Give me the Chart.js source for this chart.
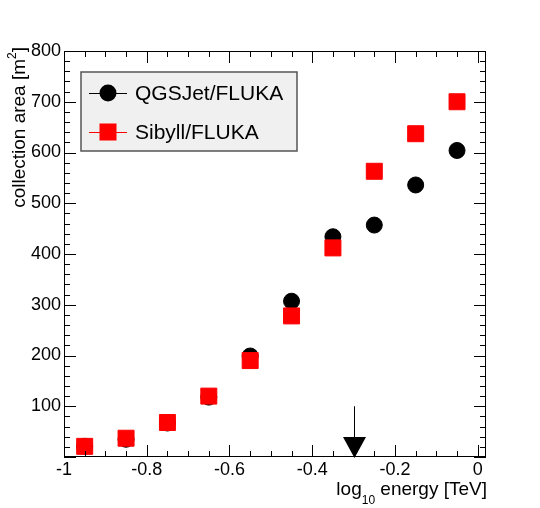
<!DOCTYPE html>
<html>
<head>
<meta charset="utf-8">
<script src="https://cdn.jsdelivr.net/npm/chart.js@4"></script>
<style>
html, body { margin: 0; padding: 0; background: #fff; }
#wrap { width: 540px; height: 508px; }
</style>
</head>
<body>
<div id="wrap"><canvas id="chart" width="540" height="508"></canvas></div>
<script>
// log10 energy bin centres [TeV]
const energy = [-0.95, -0.85, -0.75, -0.65, -0.55, -0.45, -0.35, -0.25, -0.15, -0.05]
const qgsjet = [21, 35, 67, 118, 199, 307, 434, 457, 536, 604]
const sibyll = [21, 37, 68, 120, 190, 278, 412, 563, 637, 700]
const seriesNames = ["QGSJet/FLUKA", "Sibyll/FLUKA"]
const xTickLabels = [-1, -0.8, -0.6, -0.4, -0.2, 0]
const yTickLabels = [100, 200, 300, 400, 500, 600, 700, 800]
const threshold = -0.3
const thresholdArrowTop = 100

const FONT = "'Liberation Sans', Arial, Helvetica, sans-serif"

const toPoints = function (ys) {
     return energy.map((x, i) => ({ x: x, y: ys[i] }))
}

// ROOT style frame, inward ticks, arrow, axis titles and legend
const rootStyle = {
     id: "rootStyle",
     afterDraw(chart) {
          const ctx = chart.ctx
          const a = chart.chartArea
          const xs = chart.scales.x
          const ys = chart.scales.y
          ctx.save()
          ctx.strokeStyle = "#000"
          ctx.lineWidth = 1

          // frame
          ctx.strokeRect(a.left + 0.5, a.top + 0.5, a.right - a.left - 1, a.bottom - a.top - 1)

          // x ticks (bottom and top)
          ctx.beginPath()
          for (let i = 0; i <= 20; i++) {
               const v = -1 + i * 0.05
               const px = Math.round(xs.getPixelForValue(v)) + 0.5
               const major = i % 4 === 0
               const len = major ? 12 : 6
               ctx.moveTo(px, a.bottom)
               ctx.lineTo(px, a.bottom - len)
               ctx.moveTo(px, a.top)
               ctx.lineTo(px, a.top + len)
          }
          // y ticks (left and right)
          for (let i = 0; i <= 40; i++) {
               const v = i * 20
               const py = Math.round(ys.getPixelForValue(v)) + 0.5
               const major = i % 5 === 0
               const len = major ? 12 : 6
               ctx.moveTo(a.left, py)
               ctx.lineTo(a.left + len, py)
               ctx.moveTo(a.right, py)
               ctx.lineTo(a.right - len, py)
          }
          ctx.stroke()

          // threshold arrow
          const ax = Math.round(xs.getPixelForValue(threshold)) + 0.5
          const aTop = ys.getPixelForValue(thresholdArrowTop)
          const tip = ys.getPixelForValue(0)
          ctx.beginPath()
          ctx.moveTo(ax, aTop)
          ctx.lineTo(ax, tip - 18)
          ctx.stroke()
          ctx.fillStyle = "#000"
          ctx.beginPath()
          ctx.moveTo(ax - 11.5, tip - 20)
          ctx.lineTo(ax + 11.5, tip - 20)
          ctx.lineTo(ax, tip + 1)
          ctx.closePath()
          ctx.fill()

          // x title
          ctx.fillStyle = "#000"
          ctx.textBaseline = "alphabetic"
          ctx.textAlign = "left"
          const rest = " energy [TeV]"
          ctx.font = "19px " + FONT
          const wRest = ctx.measureText(rest).width
          ctx.font = "12px " + FONT
          const wSub = ctx.measureText("10").width
          ctx.font = "19px " + FONT
          const wLog = ctx.measureText("log").width
          let tx = 487 - wRest - wSub - wLog
          ctx.fillText("log", tx, 495)
          tx += wLog
          ctx.font = "12px " + FONT
          ctx.fillText("10", tx, 504)
          tx += wSub
          ctx.font = "19px " + FONT
          ctx.fillText(rest, tx, 495)

          // y title (rotated, right aligned to top)
          ctx.save()
          ctx.translate(25, 47)
          ctx.rotate(-Math.PI / 2)
          ctx.font = "19px " + FONT
          const wBr = ctx.measureText("]").width
          ctx.font = "12px " + FONT
          const wSup = ctx.measureText("2").width
          ctx.font = "19px " + FONT
          const main = "collection area [m"
          const wMain = ctx.measureText(main).width
          let ty = -(wMain + wSup + wBr)
          ctx.fillText(main, ty, 0)
          ty += wMain
          ctx.font = "12px " + FONT
          ctx.fillText("2", ty, -9)
          ty += wSup
          ctx.font = "19px " + FONT
          ctx.fillText("]", ty, 0)
          ctx.restore()

          // legend
          ctx.fillStyle = "#f0f0f0"
          ctx.fillRect(81, 72, 216, 79)
          ctx.strokeStyle = "#555"
          ctx.lineWidth = 1.5
          ctx.strokeRect(81, 72, 216, 79)
          const rows = [93, 132]
          const colors = ["#000", "#ff0000"]
          rows.forEach((ry, i) => {
               ctx.strokeStyle = colors[i]
               ctx.lineWidth = 1
               ctx.beginPath()
               ctx.moveTo(89, ry + 0.5)
               ctx.lineTo(127, ry + 0.5)
               ctx.stroke()
               ctx.fillStyle = colors[i]
               if (i === 0) {
                    ctx.beginPath()
                    ctx.arc(108, ry, 8.5, 0, Math.PI * 2)
                    ctx.fill()
               } else {
                    ctx.fillRect(99.5, ry - 8.5, 17, 17)
               }
               ctx.fillStyle = "#000"
               ctx.font = "21px " + FONT
               ctx.textBaseline = "middle"
               ctx.fillText(seriesNames[i], 135, ry + 1)
          })
          ctx.restore()
     }
}

const chart = new Chart(document.getElementById("chart"), {
     type: "scatter",
     data: {
          datasets: [{
               label: seriesNames[0],
               data: toPoints(qgsjet),
               pointStyle: "circle",
               pointRadius: 8,
               pointBorderWidth: 1,
               backgroundColor: "#000",
               borderColor: "#000",
               order: 1
          }, {
               label: seriesNames[1],
               data: toPoints(sibyll),
               pointStyle: "rect",
               pointRadius: 11.3,
               pointBorderWidth: 1,
               backgroundColor: "#ff0000",
               borderColor: "#ff0000",
               order: 0
          }]
     },
     options: {
          responsive: false,
          devicePixelRatio: 1,
          animation: false,
          layout: { padding: { left: 0, top: 51, right: 54, bottom: 0 } },
          plugins: { legend: { display: false }, tooltip: { enabled: false } },
          scales: {
               x: {
                    type: "linear",
                    min: -1,
                    max: 0.02,
                    afterFit: s => { s.height = 51 },
                    afterBuildTicks: s => { s.ticks = xTickLabels.map(v => ({ value: v })) },
                    grid: { display: false, drawTicks: false },
                    border: { display: false },
                    ticks: {
                         autoSkip: false,
                         maxRotation: 0,
                         padding: 2,
                         color: "#000",
                         font: { family: FONT, size: 18 },
                         callback: v => String(Math.round(v * 10) / 10)
                    }
               },
               y: {
                    type: "linear",
                    min: 0,
                    max: 800,
                    afterFit: s => { s.width = 64 },
                    afterBuildTicks: s => { s.ticks = yTickLabels.map(v => ({ value: v })) },
                    grid: { display: false, drawTicks: false },
                    border: { display: false },
                    ticks: {
                         autoSkip: false,
                         padding: 3,
                         color: "#000",
                         font: { family: FONT, size: 18 },
                         callback: v => String(v)
                    }
               }
          }
     },
     plugins: [rootStyle]
})
</script>
</body>
</html>
